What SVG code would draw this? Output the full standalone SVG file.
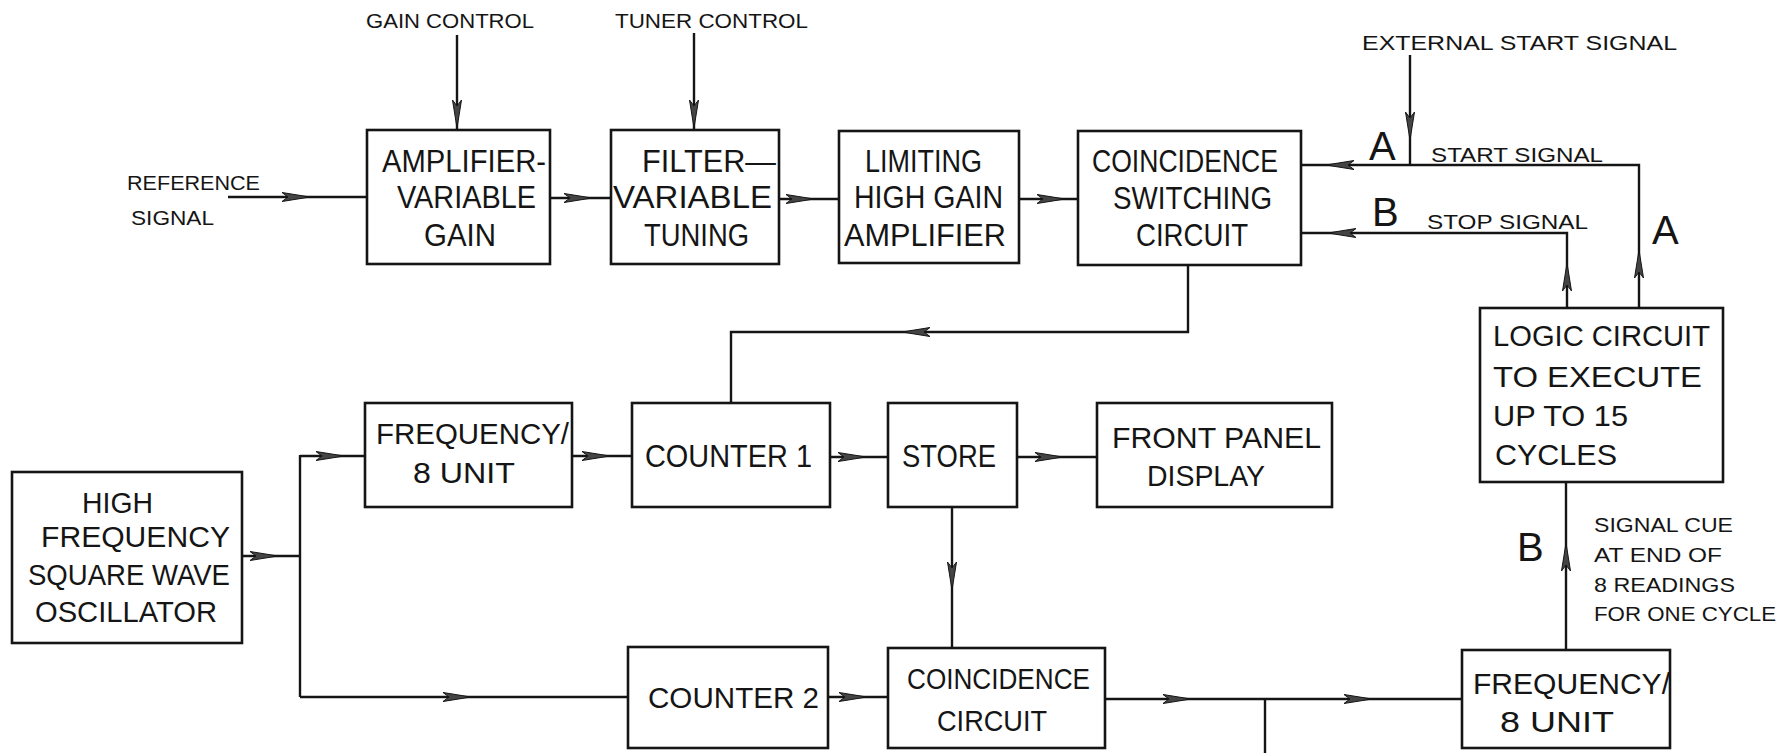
<svg xmlns="http://www.w3.org/2000/svg" xmlns:xlink="http://www.w3.org/1999/xlink" width="1783" height="753" viewBox="0 0 1783 753">
<defs>
<style>
.box{fill:none;stroke:#151515;stroke-width:2.6}
.ln{fill:none;stroke:#151515;stroke-width:2.4}
.t{font-family:'Liberation Sans',Arial,sans-serif;fill:#151515}
.b{font-size:32px}
.m{font-size:30px}
.s{font-size:20px}
.l{font-size:40px}
.ah{fill:#444;stroke:#151515;stroke-width:1}
</style>
<path id="ah" class="ah" d="M0,0 L-28,-4.5 L-22,0 L-28,4.5 Z"/>
</defs>
<rect width="1783" height="753" fill="#fff"/>

<g id="connectors">
<path class="ln" d="M228,197 H367"/>
<path class="ln" d="M550,198 H611"/>
<path class="ln" d="M779,199 H839"/>
<path class="ln" d="M1019,199 H1078"/>
<path class="ln" d="M457,35 V130"/>
<path class="ln" d="M694,33 V130"/>
<path class="ln" d="M1410,55 V165"/>
<path class="ln" d="M1301,165 H1639 V308"/>
<path class="ln" d="M1301,233 H1567 V308"/>
<path class="ln" d="M1188,265 V332 H731 V403"/>
<path class="ln" d="M242,556 H300"/>
<path class="ln" d="M300,455 V697"/>
<path class="ln" d="M300,456 H365"/>
<path class="ln" d="M300,697 H628"/>
<path class="ln" d="M572,456 H632"/>
<path class="ln" d="M830,457 H888"/>
<path class="ln" d="M1017,457 H1097"/>
<path class="ln" d="M952,507 V648"/>
<path class="ln" d="M828,697 H888"/>
<path class="ln" d="M1105,699 H1462"/>
<path class="ln" d="M1265,699 V753"/>
<path class="ln" d="M1566,650 V482"/>
<!-- arrowheads -->
<use xlink:href="#ah" transform="translate(310,197)"/>
<use xlink:href="#ah" transform="translate(592,198)"/>
<use xlink:href="#ah" transform="translate(814,199)"/>
<use xlink:href="#ah" transform="translate(1065,199)"/>
<use xlink:href="#ah" transform="translate(278,556)"/>
<use xlink:href="#ah" transform="translate(344,456)"/>
<use xlink:href="#ah" transform="translate(471,697)"/>
<use xlink:href="#ah" transform="translate(610,456)"/>
<use xlink:href="#ah" transform="translate(866,457)"/>
<use xlink:href="#ah" transform="translate(1063,457)"/>
<use xlink:href="#ah" transform="translate(867,697)"/>
<use xlink:href="#ah" transform="translate(1191,699)"/>
<use xlink:href="#ah" transform="translate(1372,699)"/>
<use xlink:href="#ah" transform="translate(902,332) rotate(180)"/>
<use xlink:href="#ah" transform="translate(1326,165) rotate(180)"/>
<use xlink:href="#ah" transform="translate(1328,233) rotate(180)"/>
<use xlink:href="#ah" transform="translate(457,128) rotate(90)"/>
<use xlink:href="#ah" transform="translate(694,128) rotate(90)"/>
<use xlink:href="#ah" transform="translate(1410,140) rotate(90)"/>
<use xlink:href="#ah" transform="translate(952,590) rotate(90)"/>
<use xlink:href="#ah" transform="translate(1567,263) rotate(-90)"/>
<use xlink:href="#ah" transform="translate(1639,250) rotate(-90)"/>
<use xlink:href="#ah" transform="translate(1566,543) rotate(-90)"/>
</g>

<g id="labels">
<text class="t s" x="366" y="28" textLength="168" lengthAdjust="spacingAndGlyphs">GAIN CONTROL</text>
<text class="t s" x="615" y="28" textLength="193" lengthAdjust="spacingAndGlyphs">TUNER CONTROL</text>
<text class="t s" x="127" y="190" textLength="133" lengthAdjust="spacingAndGlyphs">REFERENCE</text>
<text class="t s" x="131" y="225" textLength="83" lengthAdjust="spacingAndGlyphs">SIGNAL</text>
<text class="t s" x="1362" y="50" textLength="315" lengthAdjust="spacingAndGlyphs">EXTERNAL START SIGNAL</text>
<text class="t s" x="1431" y="162" textLength="172" lengthAdjust="spacingAndGlyphs">START SIGNAL</text>
<text class="t s" x="1427" y="229" textLength="161" lengthAdjust="spacingAndGlyphs">STOP SIGNAL</text>
<text class="t l" x="1369" y="160">A</text>
<text class="t l" x="1372" y="226">B</text>
<text class="t l" x="1652" y="244">A</text>
<text class="t l" x="1517" y="561">B</text>
<text class="t s" x="1594" y="532" textLength="139" lengthAdjust="spacingAndGlyphs">SIGNAL CUE</text>
<text class="t s" x="1594" y="562" textLength="128" lengthAdjust="spacingAndGlyphs">AT END OF</text>
<text class="t s" x="1594" y="592" textLength="141" lengthAdjust="spacingAndGlyphs">8 READINGS</text>
<text class="t s" x="1594" y="621" textLength="182" lengthAdjust="spacingAndGlyphs">FOR ONE CYCLE</text>
</g>

<g id="amp">
<rect class="box" x="367" y="130" width="183" height="134"/>
<text class="t b" x="382" y="172" textLength="164" lengthAdjust="spacingAndGlyphs">AMPLIFIER-</text>
<text class="t b" x="397" y="208" textLength="139" lengthAdjust="spacingAndGlyphs">VARIABLE</text>
<text class="t b" x="424" y="246" textLength="72" lengthAdjust="spacingAndGlyphs">GAIN</text>
</g>

<g id="filter">
<rect class="box" x="611" y="130" width="168" height="134"/>
<text class="t b" x="642" y="172" textLength="134" lengthAdjust="spacingAndGlyphs">FILTER—</text>
<text class="t b" x="613" y="208" textLength="159" lengthAdjust="spacingAndGlyphs">VARIABLE</text>
<text class="t b" x="644" y="246" textLength="105" lengthAdjust="spacingAndGlyphs">TUNING</text>
</g>

<g id="limiting">
<rect class="box" x="839" y="131" width="180" height="132"/>
<text class="t b" x="865" y="172" textLength="117" lengthAdjust="spacingAndGlyphs">LIMITING</text>
<text class="t b" x="854" y="208" textLength="149" lengthAdjust="spacingAndGlyphs">HIGH GAIN</text>
<text class="t b" x="844" y="246" textLength="162" lengthAdjust="spacingAndGlyphs">AMPLIFIER</text>
</g>

<g id="coincidence-switching">
<rect class="box" x="1078" y="131" width="223" height="134"/>
<text class="t b" x="1092" y="172" textLength="186" lengthAdjust="spacingAndGlyphs">COINCIDENCE</text>
<text class="t b" x="1113" y="209" textLength="159" lengthAdjust="spacingAndGlyphs">SWITCHING</text>
<text class="t b" x="1136" y="246" textLength="112" lengthAdjust="spacingAndGlyphs">CIRCUIT</text>
</g>

<g id="logic">
<rect class="box" x="1480" y="308" width="243" height="174"/>
<text class="t m" x="1493" y="346" textLength="217" lengthAdjust="spacingAndGlyphs">LOGIC CIRCUIT</text>
<text class="t m" x="1493" y="387" textLength="209" lengthAdjust="spacingAndGlyphs">TO EXECUTE</text>
<text class="t m" x="1493" y="426" textLength="135" lengthAdjust="spacingAndGlyphs">UP TO 15</text>
<text class="t m" x="1495" y="465" textLength="122" lengthAdjust="spacingAndGlyphs">CYCLES</text>
</g>

<g id="freq1">
<rect class="box" x="365" y="403" width="207" height="104"/>
<text class="t m" x="376" y="444" textLength="193" lengthAdjust="spacingAndGlyphs">FREQUENCY/</text>
<text class="t m" x="413" y="483" textLength="102" lengthAdjust="spacingAndGlyphs">8  UNIT</text>
</g>

<g id="counter1">
<rect class="box" x="632" y="403" width="198" height="104"/>
<text class="t b" x="645" y="467" textLength="167" lengthAdjust="spacingAndGlyphs">COUNTER 1</text>
</g>

<g id="store">
<rect class="box" x="888" y="403" width="129" height="104"/>
<text class="t b" x="902" y="467" textLength="94" lengthAdjust="spacingAndGlyphs">STORE</text>
</g>

<g id="front-panel">
<rect class="box" x="1097" y="403" width="235" height="104"/>
<text class="t m" x="1112" y="448" textLength="209" lengthAdjust="spacingAndGlyphs">FRONT PANEL</text>
<text class="t m" x="1147" y="486" textLength="118" lengthAdjust="spacingAndGlyphs">DISPLAY</text>
</g>

<g id="oscillator">
<rect class="box" x="12" y="472" width="230" height="171"/>
<text class="t m" x="82" y="513" textLength="71" lengthAdjust="spacingAndGlyphs">HIGH</text>
<text class="t m" x="41" y="547" textLength="189" lengthAdjust="spacingAndGlyphs">FREQUENCY</text>
<text class="t m" x="28" y="585" textLength="202" lengthAdjust="spacingAndGlyphs">SQUARE WAVE</text>
<text class="t m" x="35" y="622" textLength="182" lengthAdjust="spacingAndGlyphs">OSCILLATOR</text>
</g>

<g id="counter2">
<rect class="box" x="628" y="647" width="200" height="101"/>
<text class="t m" x="648" y="708" textLength="171" lengthAdjust="spacingAndGlyphs">COUNTER 2</text>
</g>

<g id="coincidence">
<rect class="box" x="888" y="648" width="217" height="100"/>
<text class="t m" x="907" y="689" textLength="183" lengthAdjust="spacingAndGlyphs">COINCIDENCE</text>
<text class="t m" x="937" y="731" textLength="110" lengthAdjust="spacingAndGlyphs">CIRCUIT</text>
</g>

<g id="freq2">
<rect class="box" x="1462" y="650" width="208" height="98"/>
<text class="t m" x="1473" y="694" textLength="197" lengthAdjust="spacingAndGlyphs">FREQUENCY/</text>
<text class="t m" x="1500" y="732" textLength="114" lengthAdjust="spacingAndGlyphs">8  UNIT</text>
</g>
</svg>
